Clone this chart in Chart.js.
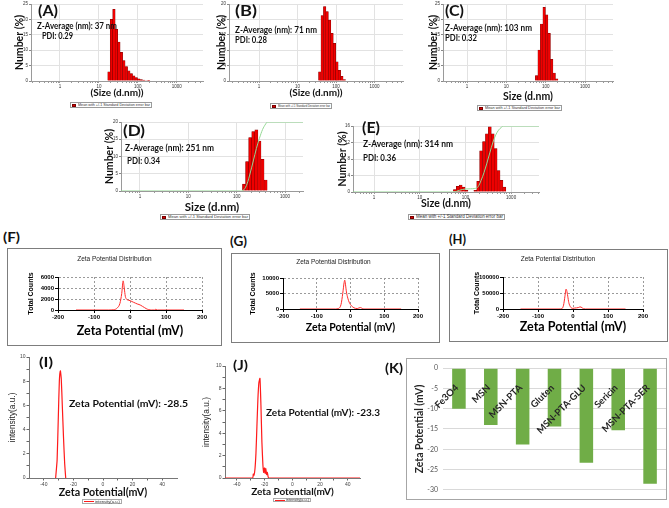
<!DOCTYPE html>
<html>
<head>
<meta charset="utf-8">
<script src="https://cdn.jsdelivr.net/npm/chart.js@4.4.1/dist/chart.umd.min.js"></script>
<style>
  html, body { margin: 0; padding: 0; background: #fff; }
  #fig { position: relative; width: 669px; height: 508px; overflow: hidden; background: #fff; }
  #fig canvas { position: absolute; }
</style>
</head>
<body>
<div id="fig"></div>
<script>
// ---- (A)-(E) DLS number distributions: bin size (nm) / number (%)
const sizesA = [18.17, 21.04, 24.36, 28.21, 32.67, 37.84, 43.82, 50.75, 58.77, 68.06, 78.82, 91.28, 105.7, 122.4, 141.8, 164.2, 190.1];
const numA = [3.0, 20.0, 23.3, 16.8, 12.6, 9.3, 6.6, 4.7, 3.3, 2.4, 1.7, 1.1, 0.7, 0.45, 0.3, 0.15, 0.08];
const sizesB = [37.84, 43.82, 50.75, 58.77, 68.06, 78.82, 91.28, 105.7, 122.4, 141.8, 164.2];
const numB = [2.4, 17.0, 19.3, 18.0, 15.8, 12.4, 9.8, 5.0, 2.8, 1.2, 0.4];
const sizesC = [58.77, 68.06, 78.82, 91.28, 105.7, 122.4, 141.8, 164.2, 190.1];
const numC = [1.8, 10.0, 18.5, 23.9, 21.5, 15.5, 7.0, 2.6, 0.7];
const sizesD = [141.8, 164.2, 190.1, 220.2, 255.0, 295.3, 342.0, 396.1];
const numD = [2.0, 8.5, 15.5, 17.2, 17.7, 14.5, 9.2, 3.2];
const sizesE = [58.77, 68.06, 78.82, 91.28, 105.7, 164.2, 190.1, 220.2, 255.0, 295.3, 342.0, 396.1, 458.7, 531.2, 615.1, 712.4];
const numE = [0.6, 1.4, 1.7, 1.2, 0.4, 0.4, 2.6, 10.0, 12.2, 14.1, 15.8, 14.1, 10.5, 5.2, 2.8, 1.2];
// cumulative curves (green), in axis units
const cumSizesD = [0.1, 120, 141.8, 164.2, 190.1, 220.2, 255.0, 295.3, 342.0, 396.1, 430, 10000];
const cumD = [0, 0, 0.4, 2.1, 5.2, 8.7, 12.3, 15.3, 17.8, 19.4, 20, 20];
const cumSizesE = [0.1, 52, 63, 73, 85, 100, 130, 160, 190, 220, 255, 295, 342, 396, 459, 531, 615, 680, 10000];
const cumE = [0, 0, 0.15, 0.4, 0.6, 0.72, 0.78, 0.85, 1.3, 2.8, 4.7, 7.0, 9.5, 11.9, 13.8, 15.0, 15.7, 16, 16];
const dlsTickSizes = [1, 10, 100, 1000];
const yTicksA = [0, 5, 10, 15, 20, 25];
const yTicksB = [0, 2, 4, 6, 8, 10, 12, 14, 16, 18, 20];
const yTicksC = [0, 5, 10, 15, 20, 25];
const yTicksD = [0, 5, 10, 15, 20];
const yTicksE = [0, 2, 4, 6, 8, 10, 12, 14, 16];

// ---- (F)-(H) zeta potential distributions: mV / total counts
const fX = [-150, -60, -45, -35, -28, -23, -19, -16, -13, -10, -5, 0, 5, 10, 15, 20, 25, 30, 35, 40, 45, 52, 60, 68, 72, 76, 150];
const fY = [0, 0, 50, 400, 1200, 3000, 5300, 4000, 2500, 2000, 1800, 1700, 1550, 1400, 1250, 1100, 1000, 850, 650, 450, 250, 60, 0, 0, 150, 0, 0];
const gX = [-150, -45, -35, -28, -23, -19, -17, -15, -12, -8, -4, 0, 5, 10, 15, 20, 25, 30, 35, 40, 150];
const gY = [0, 0, 200, 1500, 5000, 8500, 9300, 8000, 5500, 3500, 2200, 1400, 800, 400, 200, 150, 350, 450, 150, 0, 0];
const hX = [-150, -40, -32, -27, -23, -20, -18, -15, -12, -8, -4, 0, 5, 10, 15, 20, 23, 27, 30, 35, 150];
const hY = [0, 0, 1000, 12000, 40000, 62000, 58000, 40000, 20000, 8000, 3000, 2000, 3000, 3500, 4500, 6500, 6000, 3000, 1000, 0, 0];
const zetaXTicks = [-200, -100, 0, 100, 200];
const fYTicks = [0, 2000, 4000, 6000];
const gYTicks = [0, 5000, 10000];
const hYTicks = [0, 50000, 100000];

// ---- (I), (J) intensity vs zeta potential
const iX = [-32, -31, -30.2, -29.5, -28.8, -28.2, -27.5, -26.7, -25.9, -25.2];
const iY = [0, 1.5, 5.0, 8.0, 8.85, 8.2, 6.0, 3.4, 1.2, 0];
const jX = [-48.5, -28.6, -28.1, -27.6, -26.9, -26.2, -25.5, -24.8, -24.1, -23.3, -22.6, -21.9, -21.2, -20.6, -20.1, -19.6, -19.1, -18.5, -18.0, -17.4, -16.8, 48.8];
const jY = [0, 0, 0.35, 0.25, 0.8, 2.2, 4.6, 7.0, 8.5, 8.9, 6.5, 3.2, 1.2, 0.5, 0.9, 0.4, 0.85, 0.3, 0.5, 0.1, 0, 0];
const izXTicks = [-40, -20, 0, 20, 40];
const izXMarks = [-40, -30, -20, -10, 0, 10, 20, 30, 40];
const izYTicks = [0, 2, 4, 6, 8, 10];
const izYMarks = [0, 1, 2, 3, 4, 5, 6, 7, 8, 9, 10];

// ---- (K) zeta potential per sample
const kLabels = ['Fe3O4', 'MSN', 'MSN-PTA', 'Gluten', 'MSN-PTA-GLU', 'Sericin', 'MSN-PTA-SER'];
const kZeta = [-10.0, -14.0, -18.8, -14.4, -23.3, -15.3, -28.5];
const kYTicks = [-30, -25, -20, -15, -10, -5, 0];

Chart.defaults.font.family = "'Liberation Sans', Arial, sans-serif";
Chart.defaults.animation = false;
Chart.defaults.responsive = false;
Chart.defaults.plugins.legend.display = false;
Chart.defaults.plugins.tooltip.enabled = false;

const fig = document.getElementById('fig');
const pts = (xs, ys) => xs.map((x, i) => ({x, y: ys[i]}));
const setTicks = arr => s => { s.ticks = arr.map(v => ({value: v})); };

function mk(box) {
  const c = document.createElement('canvas');
  c.width = box.r - box.l; c.height = box.b - box.t;
  c.style.left = box.l + 'px'; c.style.top = box.t + 'px';
  c.style.width = c.width + 'px'; c.style.height = c.height + 'px';
  fig.appendChild(c);
  return c;
}
function rect(l, t, r, b, css) {
  const d = document.createElement('div');
  d.style.cssText = `position:absolute;left:${l}px;top:${t}px;width:${r - l}px;height:${b - t}px;box-sizing:border-box;` + css;
  fig.appendChild(d);
  return d;
}
function addText(o) {
  const el = document.createElement('div');
  el.textContent = o.t;
  el.style.cssText = `position:absolute;left:${o.x}px;top:${o.cy - o.size / 2}px;font:${o.weight || 'bold'} ${o.size}px ${o.family || 'Lato'};line-height:1;white-space:nowrap;color:${o.color || '#000'};transform-origin:0 50%;`;
  fig.appendChild(el);
  if (o.w) {
    const s = o.w / el.getBoundingClientRect().width;
    el.style.transform = o.uniform ? `scale(${s})` : `scaleX(${s})`;
  }
}

// DLS histogram panel
function dls(o) {
  const pl = o.yTitleX - o.box.l - 0.6 * 10.5;
  const pb = o.box.b - o.xTitleY - 0.6 * o.xSize;
  const yw = o.plot.l - o.box.l - pl, xh = o.box.b - o.plot.b - pb;
  const minor = [];
  for (let d = -1; d <= 3; d++) for (let k = 1; k <= 9; k++) {
    const v = Math.log10(k * Math.pow(10, d));
    if (v >= o.xr[0] && v <= o.xr[1]) minor.push(v);
  }
  const datasets = [{
    type: 'bar', order: 2,
    data: o.sizes.map((s, i) => ({x: Math.log10(s), y: o.vals[i]})),
    backgroundColor: '#ee0000', borderColor: '#7a0000', borderWidth: 0.5,
    barPercentage: 1, categoryPercentage: 1
  }];
  if (o.cumS) datasets.push({
    type: 'line', order: 1,
    data: o.cumS.map((s, i) => ({x: Math.log10(s), y: o.cumV[i]})),
    borderColor: '#93d893', borderWidth: 1, pointRadius: 0, cubicInterpolationMode: 'monotone'
  });
  const small = {size: 4.5};
  new Chart(mk(o.box), {
    type: 'bar',
    data: {datasets},
    options: {
      layout: {padding: {left: pl, top: o.plot.t - o.box.t, right: o.box.r - o.plot.r, bottom: pb}},
      scales: {
        x: {
          type: 'linear', min: o.xr[0], max: o.xr[1], offset: false,
          afterBuildTicks: setTicks(dlsTickSizes.map(v => Math.log10(v))),
          afterFit: s => { s.height = xh; },
          grid: {offset: false, color: '#e2e2e2', tickColor: '#888', tickLength: 2},
          border: {color: '#9a9a9a'},
          ticks: {autoSkip: false, maxRotation: 0, padding: 1, font: small, color: '#333',
                  callback: (v, i) => String(dlsTickSizes[i])},
          title: {display: true, text: o.xTitle, color: '#111', padding: 0,
                  font: {family: 'Lato', weight: 'bold', size: o.xSize}}
        },
        xm: {
          type: 'linear', position: {y: 0}, min: o.xr[0], max: o.xr[1], offset: false,
          afterBuildTicks: setTicks(minor),
          grid: {offset: false, drawOnChartArea: false, tickLength: 2, color: '#999'},
          border: {display: false},
          ticks: {display: false}
        },
        y: {
          min: 0, max: o.yTicks[o.yTicks.length - 1],
          afterBuildTicks: setTicks(o.yTicks),
          afterFit: s => { s.width = yw; },
          grid: {color: '#e2e2e2', tickColor: '#888', tickLength: 2},
          border: {color: '#9a9a9a'},
          ticks: {padding: 1, font: small, color: '#333'},
          title: {display: true, text: 'Number (%)', color: '#111', padding: 0,
                  font: {family: 'Lato', weight: 'bold', size: 10.5}}
        }
      }
    }
  });
}

// Zeta potential distribution panel (instrument style)
function zdist(o) {
  const ts = 6.5, lh = ts * 1.2;
  const pl = o.yTitleX - o.box.l - 0.6 * 7;
  const pb = o.box.b - o.xTitleY - 0.6 * o.xSize;
  const yw = o.plot.l - o.box.l - pl, xh = o.box.b - o.plot.b - pb;
  const tickFont = {size: 6, weight: 'bold'};
  new Chart(mk(o.box), {
    type: 'line',
    data: {datasets: [{data: pts(o.xs, o.ys), borderColor: '#ff2a2a', borderWidth: 1, pointRadius: 0, cubicInterpolationMode: 'monotone'}]},
    options: {
      layout: {padding: {left: pl, top: 0, right: o.box.r - o.plot.r, bottom: pb}},
      plugins: {
        title: {display: true, text: 'Zeta Potential Distribution', color: '#222',
                font: {size: ts, weight: 'normal'},
                padding: {top: o.titleY - o.box.t - lh / 2, bottom: o.plot.t - o.titleY - lh / 2}}
      },
      scales: {
        x: {
          type: 'linear', min: -200, max: 200,
          afterBuildTicks: setTicks(zetaXTicks),
          afterFit: s => { s.height = xh; },
          grid: {color: '#9a9a9a', tickColor: '#000', tickLength: 3},
          border: {color: '#000', dash: [2, 2]},
          ticks: {font: tickFont, color: '#000', padding: 1, maxRotation: 0, autoSkip: false, callback: v => String(v)},
          title: {display: true, text: 'Zeta Potential (mV)', color: '#000', padding: 0,
                  font: {family: 'Lato', weight: 'bold', size: o.xSize}}
        },
        y: {
          min: 0, max: o.yTicks[o.yTicks.length - 1],
          afterBuildTicks: setTicks(o.yTicks),
          afterFit: s => { s.width = yw; },
          grid: {color: '#9a9a9a', tickColor: '#000', tickLength: 3},
          border: {color: '#000', dash: [2, 2]},
          ticks: {font: tickFont, color: '#000', padding: 1, callback: v => String(v)},
          title: {display: true, text: 'Total Counts', color: '#000', padding: 0,
                  font: {size: 7, weight: 'bold'}}
        }
      }
    }
  });
}

// Intensity vs zeta potential panel
function izeta(o) {
  const pl = o.yTitleX - o.box.l - 0.6 * 8.3;
  const pb = o.box.b - o.xTitleY - 0.6 * o.xSize;
  const yw = o.plot.l - o.box.l - pl, xh = o.box.b - o.plot.b - pb;
  const tickFont = {size: 5};
  new Chart(mk(o.box), {
    type: 'line',
    data: {datasets: [{data: pts(o.xs, o.ys), borderColor: '#ff1a1a', borderWidth: 1.2, pointRadius: 0, tension: 0.15}]},
    options: {
      layout: {padding: {left: pl, top: o.plot.t - o.box.t, right: o.box.r - o.plot.r, bottom: pb}},
      scales: {
        x: {
          type: 'linear', min: o.xr[0], max: o.xr[1],
          afterBuildTicks: setTicks(izXMarks),
          afterFit: s => { s.height = xh; },
          grid: {drawOnChartArea: false, tickLength: 2.5, color: '#666'},
          border: {color: '#777'},
          ticks: {font: tickFont, color: '#444', padding: 1, maxRotation: 0, autoSkip: false,
                  callback: v => izXTicks.includes(v) ? String(v) : ''},
          title: {display: true, text: 'Zeta Potential(mV)', color: '#111', padding: 0,
                  font: {family: 'Lato', weight: 'bold', size: o.xSize}}
        },
        y: {
          min: 0, max: 10,
          afterBuildTicks: setTicks(izYMarks),
          afterFit: s => { s.width = yw; },
          grid: {drawOnChartArea: false, tickLength: 2.5, color: '#666'},
          border: {color: '#777'},
          ticks: {font: tickFont, color: '#444', padding: 1, callback: v => izYTicks.includes(v) ? String(v) : ''},
          title: {display: true, text: 'intensity(a.u.)', color: '#222', padding: 0, font: {size: 8.3}}
        }
      }
    }
  });
}

// frames behind row 3 and panel K
rect(7, 248, 222, 346, 'border:1px solid #7d7d7d;');
rect(231, 253, 440, 343, 'border:1px solid #7d7d7d;');
rect(449, 249, 668, 342, 'border:1px solid #7d7d7d;');
rect(406, 358, 667, 500, 'border:1px solid #a6a6a6;');

const xTitleP = '(Size (d.nm))', xTitle = 'Size (d.nm)';
dls({box: {l: 12, t: 0, r: 206, b: 101}, plot: {l: 31, t: 4, r: 203, b: 81}, yTitleX: 20, xTitleY: 93, xSize: 10,
     xTitle: xTitleP, xr: [-0.745, 3.676], yTicks: yTicksA, sizes: sizesA, vals: numA});
dls({box: {l: 214, t: 0, r: 406, b: 101}, plot: {l: 229, t: 4, r: 403, b: 81}, yTitleX: 222, xTitleY: 93, xSize: 10,
     xTitle: xTitleP, xr: [-0.78, 3.74], yTicks: yTicksB, sizes: sizesB, vals: numB});
dls({box: {l: 426, t: 0, r: 616, b: 105}, plot: {l: 443, t: 4, r: 613, b: 81}, yTitleX: 434, xTitleY: 97, xSize: 10.5,
     xTitle: xTitle, xr: [-0.61, 3.71], yTicks: yTicksC, sizes: sizesC, vals: numC});
dls({box: {l: 102, t: 118, r: 306, b: 215}, plot: {l: 121, t: 122, r: 303, b: 191}, yTitleX: 110, xTitleY: 207, xSize: 11.5,
     xTitle: xTitle, xr: [-0.39, 3.37], yTicks: yTicksD, sizes: sizesD, vals: numD, cumS: cumSizesD, cumV: cumD});
dls({box: {l: 335, t: 120, r: 542, b: 212}, plot: {l: 353, t: 126, r: 539, b: 192}, yTitleX: 343, xTitleY: 204, xSize: 10.5,
     xTitle: xTitle, xr: [-0.46, 3.61], yTicks: yTicksE, sizes: sizesE, vals: numE, cumS: cumSizesE, cumV: cumE});

zdist({box: {l: 8, t: 249, r: 221, b: 345}, plot: {l: 58, t: 277, r: 202, b: 310}, titleY: 259, yTitleX: 31, xTitleY: 331, xSize: 12.5,
       yTicks: fYTicks, xs: fX, ys: fY});
zdist({box: {l: 232, t: 254, r: 439, b: 342}, plot: {l: 283, t: 278, r: 418, b: 309}, titleY: 262, yTitleX: 253, xTitleY: 328, xSize: 10.5,
       yTicks: gYTicks, xs: gX, ys: gY});
zdist({box: {l: 450, t: 250, r: 667, b: 341}, plot: {l: 503, t: 277, r: 643, b: 309}, titleY: 259, yTitleX: 477, xTitleY: 327, xSize: 12.5,
       yTicks: hYTicks, xs: hX, ys: hY});

izeta({box: {l: 8, t: 352, r: 182, b: 500}, plot: {l: 29, t: 357, r: 177, b: 478}, yTitleX: 13, xTitleY: 493, xSize: 10.7,
       xr: [-50, 50], xs: iX, ys: iY});
izeta({box: {l: 202, t: 360, r: 365, b: 499}, plot: {l: 225, t: 366, r: 360, b: 478}, yTitleX: 207, xTitleY: 492, xSize: 10,
       xr: [-48.5, 48.8], xs: jX, ys: jY});

// (K) bar chart
(function () {
  const box = {l: 407, t: 359, r: 666, b: 499}, plot = {l: 443, t: 367, r: 666, b: 491};
  const pl = 420 - box.l - 0.6 * 10.4, yw = plot.l - box.l - pl;
  new Chart(mk(box), {
    type: 'bar',
    data: {labels: kLabels, datasets: [{data: kZeta, backgroundColor: '#70ad47', barPercentage: 0.85, categoryPercentage: 0.5}]},
    options: {
      layout: {padding: {left: pl, top: plot.t - box.t, right: 0, bottom: box.b - plot.b}},
      scales: {
        y: {
          min: -30, max: 0,
          afterBuildTicks: setTicks(kYTicks),
          afterFit: s => { s.width = yw; },
          grid: {color: '#d9d9d9', drawTicks: false},
          border: {display: false},
          ticks: {padding: 5, color: '#595959', font: {family: 'Lato', size: 7}},
          title: {display: true, text: 'Zeta Potential (mV)', color: '#262626', padding: 0,
                  font: {family: 'Lato', weight: 'bold', size: 10.4}}
        },
        x: {
          position: {y: 0},
          grid: {display: false},
          border: {display: false},
          ticks: {z: 1, autoSkip: false, minRotation: 45, maxRotation: 45, padding: 6, labelOffset: -2,
                  color: '#262626', font: {family: 'Lato', weight: 'bold', size: 9.5}}
        }
      }
    }
  });
})();

// legends
function dlsLegend(l, t, r, b) {
  rect(l, t, r, b, 'border:1px solid #9a9a9a;background:#fff;');
  const h = b - t;
  rect(l + 2, t + 1.5, l + h, b - 1.5, 'background:#e00000;border:0.5px solid #700;');
  addText({t: 'Mean with +/-1 Standard Deviation error bar', x: l + h + 2, cy: (t + b) / 2, size: 8,
           w: r - l - h - 4, weight: 'normal', family: "'Liberation Sans'", color: '#333', uniform: true});
}
dlsLegend(70, 102, 152, 108);
dlsLegend(270, 103, 332, 109);
dlsLegend(477, 105, 562, 111);
dlsLegend(160, 214, 250, 220);
dlsLegend(408, 214, 505, 220);

function lineLegend(l, t, r, b) {
  rect(l, t, r, b, 'border:1px solid #aaa;background:#fff;');
  rect(l + 2, (t + b) / 2 - 0.5, l + 12, (t + b) / 2 + 0.5, 'background:#ff1a1a;');
  addText({t: 'intensity(a.u.)', x: l + 13, cy: (t + b) / 2, size: 8, w: r - l - 15,
           weight: 'normal', family: "'Liberation Sans'", color: '#333', uniform: true});
}
lineLegend(82, 499, 122, 504);
lineLegend(273, 498, 311, 502);

// panel letters and annotations: text, left, center y, font size, width
const notes = [
  ['(A)', 38, 10, 15, 20], ['Z-Average (nm): 37 nm', 37, 26, 9.5, 80], ['PDI: 0.29', 42, 36, 9.5, 31],
  ['(B)', 235, 10, 15, 22], ['Z-Average (nm): 71 nm', 235, 30, 9.5, 82], ['PDI: 0.28', 235, 40, 9.5, 32],
  ['(C)', 445, 10, 15, 19], ['Z-Average (nm): 103 nm', 445, 28, 9.5, 87], ['PDI: 0.32', 445, 38, 9.5, 32],
  ['(D)', 123, 130.5, 15, 22], ['Z-Average (nm): 251 nm', 125, 148, 9.5, 89], ['PDI: 0.34', 127, 161, 9.5, 33],
  ['(E)', 362, 127.5, 15, 18], ['Z-Average (nm): 314 nm', 363, 144, 9.5, 90], ['PDI: 0.36', 363, 158, 9.5, 33],
  ['(F)', 3, 237.5, 13, 17], ['(G)', 230, 241, 13, 17], ['(H)', 449, 239.5, 13, 17],
  ['(I)', 39, 362.5, 13, 14], ['Zeta Potential (mV): -28.5', 69, 403, 10, 119],
  ['(J)', 233, 365, 13, 15], ['Zeta Potential (mV): -23.3', 266, 412, 10, 114],
  ['(K)', 385, 368, 13, 18]
];
notes.forEach(n => addText({t: n[0], x: n[1], cy: n[2], size: n[3], w: n[4], color: '#111'}));
</script>
</body>
</html>
